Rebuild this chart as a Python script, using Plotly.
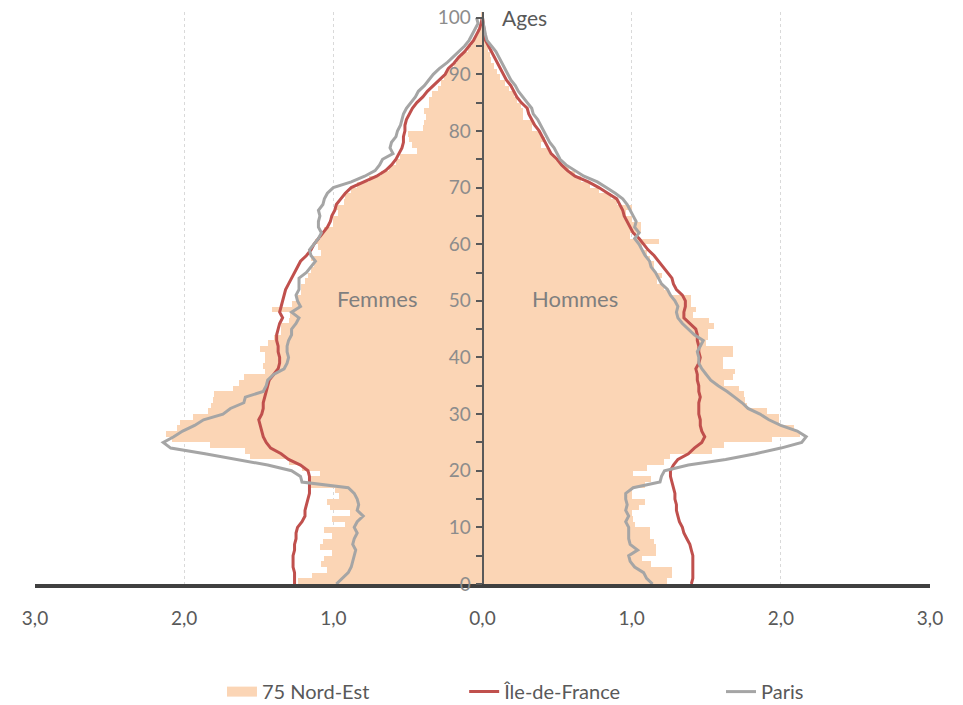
import plotly.graph_objects as go

ages = list(range(101))

# 75 Nord-Est (bars), % of population by single year of age
nordest_femmes = [1.24, 1.14, 1.04, 1.08, 1.06, 1.01, 1.09, 1.07, 1.01, 1.06,
                  0.92, 1.01, 0.89, 1.02, 1.04, 0.96, 0.99, 1.17, 1.15, 1.09,
                  1.21, 1.30, 1.56, 1.59, 1.83, 2.08, 2.12, 2.05, 2.03, 1.94,
                  1.84, 1.82, 1.81, 1.80, 1.67, 1.63, 1.60, 1.46, 1.47, 1.46,
                  1.46, 1.49, 1.44, 1.40, 1.35, 1.35, 1.30, 1.29, 1.41, 1.28,
                  1.25, 1.22, 1.22, 1.19, 1.17, 1.15, 1.13, 1.15, 1.08, 1.10,
                  1.12, 1.08, 1.06, 1.00, 1.00, 0.97, 0.98, 0.93, 0.92, 0.88,
                  0.84, 0.76, 0.68, 0.63, 0.58, 0.55, 0.44, 0.47, 0.49, 0.50,
                  0.40, 0.39, 0.38, 0.39, 0.36, 0.36, 0.34, 0.30, 0.28, 0.26,
                  0.24, 0.19, 0.17, 0.14, 0.10, 0.07, 0.05, 0.04, 0.02, 0.015,
                  0.01]
nordest_hommes = [1.24, 1.27, 1.27, 1.13, 1.07, 1.16, 1.16, 1.15, 1.12, 1.12,
                  1.02, 1.01, 1.00, 1.05, 1.09, 1.00, 1.00, 1.09, 1.13, 1.01,
                  1.10, 1.22, 1.26, 1.54, 1.62, 1.94, 2.13, 2.09, 1.99, 1.99,
                  1.91, 1.77, 1.76, 1.75, 1.72, 1.62, 1.68, 1.69, 1.61, 1.61,
                  1.68, 1.68, 1.50, 1.51, 1.51, 1.55, 1.52, 1.41, 1.43, 1.40,
                  1.40, 1.25, 1.22, 1.17, 1.20, 1.15, 1.15, 1.12, 1.10, 1.07,
                  1.18, 0.99, 1.06, 1.06, 1.00, 0.96, 1.00, 0.90, 0.86, 0.78,
                  0.72, 0.66, 0.62, 0.58, 0.52, 0.48, 0.45, 0.39, 0.42, 0.39,
                  0.33, 0.34, 0.27, 0.27, 0.26, 0.23, 0.21, 0.18, 0.15, 0.12,
                  0.10, 0.08, 0.06, 0.05, 0.04, 0.03, 0.02, 0.02, 0.01, 0.01,
                  0.005]

# Île-de-France (lines)
idf_femmes = [1.26, 1.26, 1.26, 1.27, 1.27, 1.27, 1.26, 1.26, 1.25, 1.25,
              1.24, 1.21, 1.19, 1.19, 1.18, 1.17, 1.16, 1.16, 1.16, 1.16,
              1.17, 1.22, 1.30, 1.35, 1.42, 1.45, 1.47, 1.48, 1.49, 1.50,
              1.48, 1.47, 1.47, 1.46, 1.45, 1.44, 1.43, 1.40, 1.37, 1.36,
              1.36, 1.37, 1.37, 1.38, 1.38, 1.37, 1.36, 1.34, 1.36, 1.35,
              1.34, 1.33, 1.32, 1.30, 1.28, 1.26, 1.24, 1.22, 1.18, 1.15,
              1.13, 1.10, 1.07, 1.04, 1.02, 1.01, 0.99, 0.98, 0.95, 0.92,
              0.88, 0.80, 0.71, 0.65, 0.61, 0.58, 0.56, 0.54, 0.53, 0.53,
              0.52, 0.52, 0.51, 0.49, 0.47, 0.44, 0.40, 0.37, 0.33, 0.29,
              0.25, 0.23, 0.19, 0.16, 0.12, 0.09, 0.06, 0.04, 0.02, 0.01,
              0.00]
idf_hommes = [1.40, 1.41, 1.41, 1.41, 1.41, 1.41, 1.40, 1.39, 1.37, 1.35,
              1.34, 1.32, 1.31, 1.30, 1.30, 1.29, 1.29, 1.28, 1.27, 1.26,
              1.26, 1.28, 1.31, 1.38, 1.42, 1.47, 1.49, 1.47, 1.46, 1.46,
              1.45, 1.45, 1.45, 1.46, 1.45, 1.45, 1.44, 1.44, 1.43, 1.45,
              1.46, 1.45, 1.45, 1.44, 1.44, 1.43, 1.39, 1.35, 1.35, 1.36,
              1.36, 1.34, 1.30, 1.28, 1.27, 1.24, 1.21, 1.18, 1.15, 1.11,
              1.08, 1.05, 1.01, 0.99, 0.97, 0.95, 0.94, 0.92, 0.90, 0.84,
              0.78, 0.71, 0.62, 0.57, 0.53, 0.50, 0.46, 0.44, 0.42, 0.40,
              0.38, 0.35, 0.33, 0.31, 0.30, 0.26, 0.23, 0.21, 0.19, 0.16,
              0.14, 0.12, 0.10, 0.08, 0.06, 0.04, 0.02, 0.015, 0.01, 0.005,
              0.00]

# Paris (lines)
paris_femmes = [0.98, 0.94, 0.90, 0.88, 0.87, 0.86, 0.85, 0.87, 0.86, 0.84,
                0.86, 0.84, 0.80, 0.84, 0.83, 0.84, 0.86, 0.90, 1.21, 1.22,
                1.28, 1.44, 1.64, 1.86, 2.09, 2.14, 2.07, 2.01, 1.93, 1.87,
                1.74, 1.69, 1.60, 1.59, 1.47, 1.45, 1.44, 1.40, 1.33, 1.31,
                1.30, 1.31, 1.31, 1.30, 1.28, 1.28, 1.25, 1.23, 1.28, 1.22,
                1.24, 1.25, 1.23, 1.23, 1.23, 1.18, 1.15, 1.12, 1.15, 1.16,
                1.13, 1.10, 1.08, 1.10, 1.10, 1.09, 1.10, 1.07, 1.06, 1.04,
                1.00, 0.88, 0.79, 0.72, 0.69, 0.67, 0.60, 0.62, 0.61, 0.58,
                0.57, 0.55, 0.54, 0.53, 0.51, 0.48, 0.45, 0.43, 0.39, 0.36,
                0.33, 0.29, 0.24, 0.20, 0.16, 0.12, 0.09, 0.07, 0.05, 0.03,
                0.04]
paris_hommes = [1.14, 1.10, 1.08, 1.02, 0.99, 0.98, 1.04, 0.99, 0.98, 0.98,
                0.98, 0.96, 0.98, 0.96, 0.97, 0.96, 0.96, 1.01, 1.19, 1.20,
                1.22, 1.38, 1.63, 1.83, 2.00, 2.14, 2.17, 2.11, 2.00, 1.92,
                1.86, 1.78, 1.74, 1.69, 1.64, 1.58, 1.53, 1.50, 1.47, 1.45,
                1.45, 1.44, 1.46, 1.48, 1.42, 1.38, 1.34, 1.31, 1.30, 1.31,
                1.29, 1.26, 1.24, 1.20, 1.18, 1.16, 1.13, 1.12, 1.09, 1.07,
                1.05, 1.02, 1.05, 1.02, 1.03, 1.01, 0.99, 0.97, 0.94, 0.89,
                0.83, 0.77, 0.68, 0.62, 0.56, 0.52, 0.50, 0.48, 0.45, 0.43,
                0.41, 0.39, 0.37, 0.34, 0.33, 0.30, 0.27, 0.24, 0.22, 0.19,
                0.17, 0.15, 0.13, 0.11, 0.09, 0.06, 0.03, 0.02, 0.01, 0.005,
                0.00]

x_tickvals = [-3, -2, -1, 0, 1, 2, 3]
x_ticktext = ["3,0", "2,0", "1,0", "0,0", "1,0", "2,0", "3,0"]
age_tickvals = list(range(0, 101, 10))

PEACH = "#FBD5B5"
RED = "#C0504D"
GREY = "#A5A5A5"
FONT = "Lato"

fig = go.Figure()

fig.add_trace(go.Bar(y=ages, x=[-v for v in nordest_femmes], orientation="h",
                     width=1, offset=0, marker=dict(color=PEACH, line=dict(width=0)),
                     name="75 Nord-Est", showlegend=False, legendgroup="ne",
                     hoverinfo="skip"))
fig.add_trace(go.Bar(y=ages, x=nordest_hommes, orientation="h",
                     width=1, offset=0, marker=dict(color=PEACH, line=dict(width=0)),
                     name="75 Nord-Est", showlegend=False, legendgroup="ne",
                     hoverinfo="skip"))
# legend entry for the bars
fig.add_trace(go.Scatter(x=[None], y=[None], mode="lines",
                         line=dict(color=PEACH, width=12),
                         name="75 Nord-Est", legendgroup="ne", legend="legend"))

fig.add_trace(go.Scatter(y=ages, x=[-v for v in idf_femmes], mode="lines",
                         line=dict(color=RED, width=3), name="Île-de-France",
                         legendgroup="idf", legend="legend2"))
fig.add_trace(go.Scatter(y=ages, x=idf_hommes, mode="lines",
                         line=dict(color=RED, width=3), name="Île-de-France",
                         legendgroup="idf", showlegend=False))

fig.add_trace(go.Scatter(y=ages, x=[-v for v in paris_femmes], mode="lines",
                         line=dict(color=GREY, width=3), name="Paris",
                         legendgroup="paris", legend="legend3"))
fig.add_trace(go.Scatter(y=ages, x=paris_hommes, mode="lines",
                         line=dict(color=GREY, width=3), name="Paris",
                         legendgroup="paris", showlegend=False))

legend_common = dict(orientation="h", xref="container", yref="container",
                     yanchor="middle", y=0.019, xanchor="left",
                     font=dict(family=FONT, size=20, color="#595959"),
                     bgcolor="rgba(0,0,0,0)", itemwidth=30, tracegroupgap=0)

fig.update_layout(
    width=963, height=705,
    margin=dict(l=35, r=33, t=12, b=121, autoexpand=False),
    paper_bgcolor="white", plot_bgcolor="white",
    barmode="overlay", bargap=0,
    font=dict(family=FONT),
    xaxis=dict(range=[-3, 3], tickvals=x_tickvals, ticktext=x_ticktext,
               showgrid=True, gridcolor="#D9D9D9", griddash="dot", gridwidth=1,
               zeroline=False, showline=True, linecolor="#404040", linewidth=4,
               ticks="", ticklabelstandoff=14, automargin=False,
               tickfont=dict(family=FONT, size=19, color="#595959"),
               fixedrange=True),
    yaxis=dict(range=[0, 101], anchor="free", position=0.5,
               tickvals=age_tickvals, showgrid=False, zeroline=False,
               showline=True, linecolor="#595959", linewidth=2,
               ticks="outside", ticklen=6, tickwidth=1.5, tickcolor="#595959",
               minor=dict(dtick=5, ticks="outside", ticklen=6, tickwidth=1.5,
                          tickcolor="#595959", showgrid=False),
               tickfont=dict(family=FONT, size=19, color="#8C8C8C"),
               ticklabelstandoff=1, automargin=False, fixedrange=True),
    legend=dict(x=0.2305, **legend_common),
    legend2=dict(x=0.482, **legend_common),
    legend3=dict(x=0.7487, **legend_common),
    annotations=[
        dict(x=-0.71, y=50.4, text="Femmes", showarrow=False,
             font=dict(family=FONT, size=22, color="#7F7F7F")),
        dict(x=0.62, y=50.4, text="Hommes", showarrow=False,
             font=dict(family=FONT, size=22, color="#7F7F7F")),
        dict(x=0.12, y=100, text="Ages", showarrow=False, xanchor="left",
             font=dict(family=FONT, size=21, color="#595959")),
    ],
)

fig.write_html("out.html", config={"displayModeBar": False},
               post_script="document.body.style.margin='0';")
